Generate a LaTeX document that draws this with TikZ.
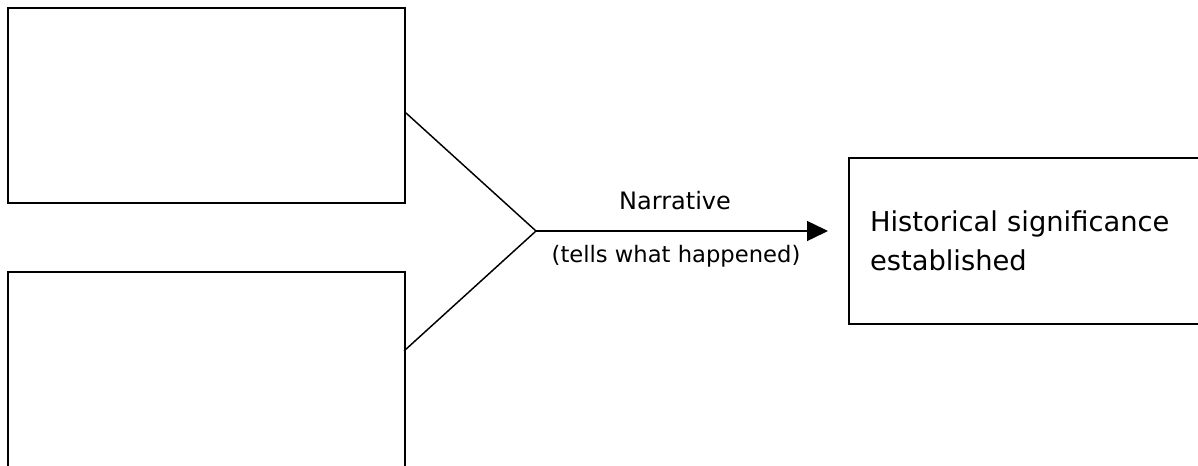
\documentclass[tikz,border=0pt]{standalone}
\usepackage{fontspec}
\setmainfont{DejaVu Sans}
\usepackage{tikz}
\usetikzlibrary{positioning,calc,arrows.meta}

\begin{document}
\begin{tikzpicture}[x=0.75pt,y=-0.75pt,
		box/.style={draw=black,line width=1.5pt,minimum width=297.75pt,minimum height=146.25pt,anchor=north west,inner sep=0pt},
		link/.style={line width=1.1pt}]
		\useasboundingbox (0,0) rectangle (1198,466);
		\node[box] (top) at (7,7) {};
		\node[box] (bottom) at (7,271) {};
		\node[box,minimum width=271.5pt,minimum height=124.5pt,text width=240pt,inner xsep=15.75pt,align=left,font=\fontsize{20.5}{29}\selectfont] (sig) at (848,157) {Historical significance\\established};
		
		\coordinate[shift={(0,106)}] (topout) at (top.north east);
		\coordinate[shift={(-2,80)}] (bottomout) at (bottom.north east);
		\coordinate (join) at (536,231);
		\coordinate (tip) at (828,231);
		\draw[link] (topout)--(join);
		\draw[link] (bottomout)--(join);
		\draw[link,-{Triangle[length=15.75pt,width=15pt]}] (join)--(tip);
		
		\node[anchor=base,font=\fontsize{18}{20}\selectfont] (narr) at (675,210) {Narrative};
		\node[anchor=base,font=\fontsize{17}{20}\selectfont] (tells) at (676,263) {(tells what happened)};
	\end{tikzpicture}
\end{document}
